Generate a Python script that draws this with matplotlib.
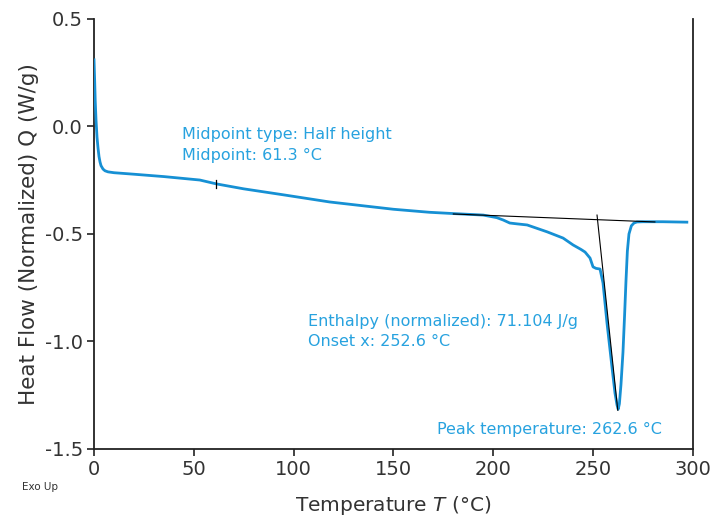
import numpy as np
import matplotlib
matplotlib.use("Agg")
import matplotlib.pyplot as plt

# DSC curve (temperature in °C, heat flow in W/g)
temp = [0.0, 0.3, 0.6, 1.0, 1.5, 2.0, 2.5, 3.0, 3.5, 4.5, 5.5, 7.0, 10.0,
        20.0, 35.0, 53.0, 61.3, 75.0, 95.0, 118.0, 150.0, 168.0, 180.0,
        195.0, 201.8, 205.0, 208.3, 212.0, 217.0, 227.0, 235.0, 240.0,
        244.0, 246.0, 248.5, 250.0, 251.5, 253.5, 255.0, 257.0, 259.5,
        261.0, 262.0, 262.6, 263.2, 264.0, 265.0, 265.8, 266.5, 267.2,
        268.0, 269.2, 270.5, 272.0, 275.0, 285.0, 297.0]
heat_flow = [0.31, 0.22, 0.12, 0.03, -0.05, -0.10, -0.14, -0.165, -0.182,
             -0.198, -0.206, -0.211, -0.215, -0.222, -0.233, -0.249, -0.267,
             -0.29, -0.318, -0.351, -0.385, -0.399, -0.405, -0.412, -0.424,
             -0.435, -0.449, -0.453, -0.458, -0.49, -0.519, -0.551, -0.572,
             -0.584, -0.612, -0.653, -0.66, -0.663, -0.728, -0.914, -1.12,
             -1.24, -1.295, -1.315, -1.29, -1.2, -1.05, -0.88, -0.72, -0.58,
             -0.50, -0.462, -0.449, -0.444, -0.443, -0.443, -0.445]

# analysis constructions
baseline_t = [180.0, 281.0]
baseline_q = [-0.407, -0.444]
tangent_t = [252.0, 262.4]
tangent_q = [-0.412, -1.32]
midpoint_t = 61.3
midpoint_q = -0.267

curve_color = "#1690d4"
text_color = "#27a2df"
ink = "#333333"

plt.rcParams["font.family"] = ["DejaVu Sans"]

fig = plt.figure(figsize=(7.15, 5.19), dpi=100)
ax = fig.add_axes([0.1315, 0.1349, 0.8375, 0.8285])

ax.plot(temp, heat_flow, color=curve_color, lw=2.0, zorder=3)
ax.plot(baseline_t, baseline_q, color="black", lw=0.8, zorder=4)
ax.plot(tangent_t, tangent_q, color="black", lw=0.8, zorder=4)
ax.plot([midpoint_t, midpoint_t], [midpoint_q + 0.02, midpoint_q - 0.02],
        color="black", lw=0.9, zorder=4)

ax.text(44, -0.035, "Midpoint type: Half height", color=text_color,
        fontsize=11.5, va="center")
ax.text(44, -0.137, "Midpoint: 61.3 °C", color=text_color,
        fontsize=11.5, va="center")
ax.text(107, -0.905, "Enthalpy (normalized): 71.104 J/g", color=text_color,
        fontsize=11.5, va="center")
ax.text(107, -0.998, "Onset x: 252.6 °C", color=text_color,
        fontsize=11.5, va="center")
ax.text(172, -1.407, "Peak temperature: 262.6 °C", color=text_color,
        fontsize=11.5, va="center")

ax.set_xlim(0, 300)
ax.set_ylim(-1.5, 0.5)
ax.set_xticks([0, 50, 100, 150, 200, 250, 300])
ax.set_yticks([-1.5, -1.0, -0.5, 0.0, 0.5])
ax.set_yticklabels(["-1.5", "-1.0", "-0.5", "0.0", "0.5"])

ax.spines["top"].set_visible(False)
for side in ["left", "bottom", "right"]:
    ax.spines[side].set_linewidth(1.3)
    ax.spines[side].set_color("#222222")
ax.tick_params(axis="both", labelsize=14, length=5, width=1.2,
               colors="#222222", labelcolor=ink, pad=3)

ax.set_xlabel("Temperature $\\mathit{T}$ (°C)", fontsize=14.5, labelpad=11,
              color=ink)
ax.set_ylabel("Heat Flow (Normalized) Q (W/g)", fontsize=15.5, labelpad=4,
              color=ink)

fig.text(0.031, 0.056, "Exo Up", fontsize=7.5, color=ink)

fig.savefig("out.png", dpi=100)
